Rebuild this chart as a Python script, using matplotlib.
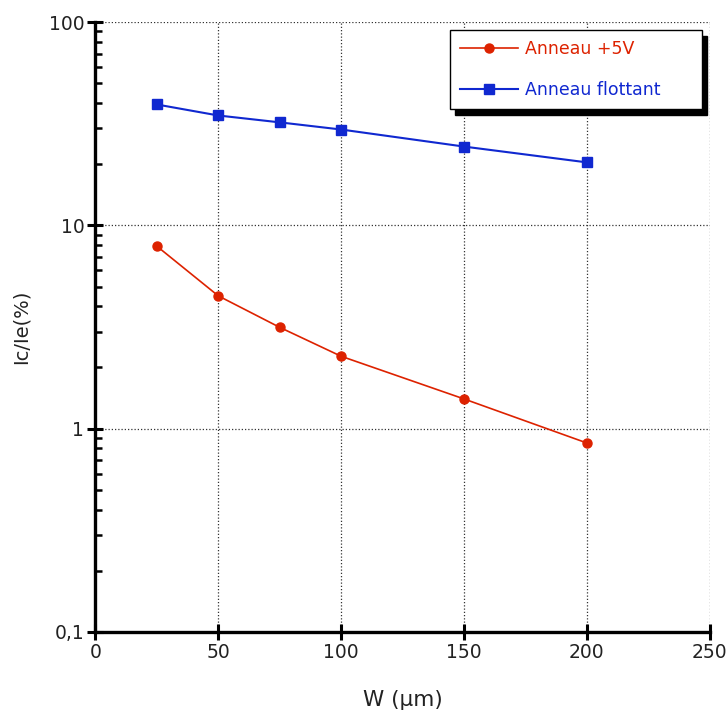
import matplotlib.pyplot as plt
from matplotlib.ticker import FixedLocator, FixedFormatter, LogLocator, NullFormatter

plt.rcParams['font.family'] = ['DejaVu Sans']

# Données
w_um = [25, 50, 75, 100, 150, 200]
anneau_5v = [7.9, 4.5, 3.15, 2.27, 1.40, 0.85]
anneau_flottant = [39.3, 34.7, 32.1, 29.6, 24.4, 20.4]

x_ticks = [0, 50, 100, 150, 200, 250]
y_ticks = [0.1, 1, 10, 100]
y_tick_labels = ['0,1', '1', '10', '100']

fig = plt.figure(figsize=(7.28, 7.22), dpi=100, facecolor='white')
ax = fig.add_axes([0.131, 0.1247, 0.844, 0.8448])

ax.plot(w_um, anneau_5v, color='#dd2200', marker='o', markersize=6.5,
        linewidth=1.2, label='Anneau +5V', clip_on=False)
ax.plot(w_um, anneau_flottant, color='#1028d0', marker='s', markersize=7,
        linewidth=1.5, label='Anneau flottant', clip_on=False)

ax.set_yscale('log')
ax.set_xlim(0, 250)
ax.set_ylim(0.1, 100)

ax.xaxis.set_major_locator(FixedLocator(x_ticks))
ax.yaxis.set_major_locator(FixedLocator(y_ticks))
ax.yaxis.set_major_formatter(FixedFormatter(y_tick_labels))
ax.yaxis.set_minor_locator(LogLocator(base=10, subs=range(2, 10)))
ax.yaxis.set_minor_formatter(NullFormatter())

for s in ['top', 'right']:
    ax.spines[s].set_visible(False)
for s in ['left', 'bottom']:
    ax.spines[s].set_linewidth(2.4)

ax.tick_params(axis='both', which='major', direction='inout', length=12,
               width=2.2, labelsize=13.5, pad=2, labelcolor='#222222')
ax.tick_params(axis='y', which='minor', direction='in', length=5, width=1.8)

ax.grid(True, which='major', color='#333333', linestyle=(0, (1, 1.6)), linewidth=0.9)
ax.set_axisbelow(True)

ax.set_xlabel('W (µm)', fontsize=15.5, labelpad=20, color='#222222')
ax.set_ylabel('Ic/Ie(%)', fontsize=14, labelpad=13, color='#222222')

leg = ax.legend(loc='upper left', bbox_to_anchor=(0.577, 0, 0.41, 0.987),
                mode='expand', borderaxespad=0,
                fancybox=False, framealpha=1, edgecolor='black',
                shadow={'color': 'black', 'alpha': 1, 'ox': 4, 'oy': -4},
                labelcolor='linecolor', fontsize=12.5, handlelength=3.3,
                handletextpad=0.4, borderpad=0.6, labelspacing=1.3)
leg.get_frame().set_linewidth(1.0)

fig.savefig('out.png', dpi=100)
